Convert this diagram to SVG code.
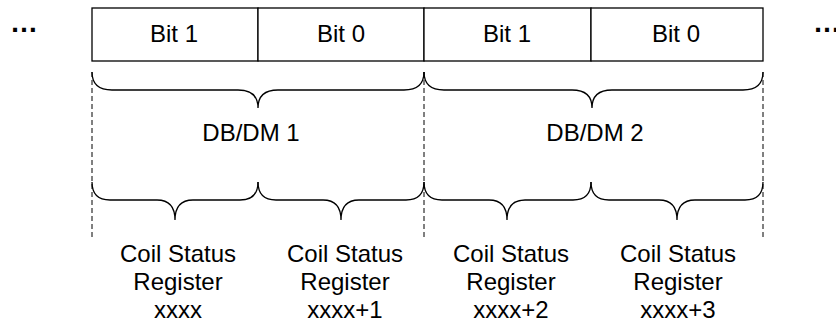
<svg xmlns="http://www.w3.org/2000/svg" width="836" height="322" viewBox="0 0 836 322">
<style>
text{font-family:"Liberation Sans",Arial,sans-serif;font-size:24px;fill:#000;text-anchor:middle}
.cell{fill:#fff;stroke:#000;stroke-width:1.3}
.brace{fill:none;stroke:#000;stroke-width:1.3}
.dash{fill:none;stroke:#000;stroke-width:1;stroke-dasharray:5,3}
.dots{font-size:28px;font-weight:bold;text-anchor:start}
</style>
<rect width="836" height="322" fill="#fff"/>
<text class="dots" x="10" y="32">…</text>
<text class="dots" x="813" y="32">…</text>
<g id="cell1"><rect class="cell" x="92" y="8" width="166" height="53"/><text x="174" y="42">Bit 1</text></g>
<g id="cell2"><rect class="cell" x="258" y="8" width="166" height="53"/><text x="341" y="42">Bit 0</text></g>
<g id="cell3"><rect class="cell" x="424" y="8" width="167" height="53"/><text x="507" y="42">Bit 1</text></g>
<g id="cell4"><rect class="cell" x="591" y="8" width="172" height="53"/><text x="676" y="42">Bit 0</text></g>
<g id="connectors">
<path class="dash" d="M92,72 V237 M424,72 V237 M763,72 V237"/>
<path class="brace" d="M92,72 Q92,90 112,90 L238,90 Q258,90 258,108 Q258,90 278,90 L404,90 Q424,90 424,72"/>
<path class="brace" d="M424,72 Q424,90 444,90 L572,90 Q592,90 592,108 Q592,90 612,90 L743,90 Q763,90 763,72"/>
<path class="brace" d="M92,182 Q92,200 110,200 L157,200 Q175,200 175,220 Q175,200 193,200 L240,200 Q258,200 258,182"/>
<path class="brace" d="M258,182 Q258,200 276,200 L323,200 Q341,200 341,220 Q341,200 359,200 L406,200 Q424,200 424,182"/>
<path class="brace" d="M424,182 Q424,200 442,200 L489,200 Q507,200 507,220 Q507,200 525,200 L573,200 Q591,200 591,182"/>
<path class="brace" d="M591,182 Q591,200 609,200 L659,200 Q677,200 677,220 Q677,200 695,200 L745,200 Q763,200 763,182"/>
</g>
<g id="db1"><text x="251" y="141">DB/DM 1</text></g>
<g id="db2"><text x="595" y="141">DB/DM 2</text></g>
<g id="reg1"><text x="178" y="262">Coil Status</text><text x="178" y="290">Register</text><text x="178" y="318">xxxx</text></g>
<g id="reg2"><text x="345" y="262">Coil Status</text><text x="345" y="290">Register</text><text x="345" y="318">xxxx+1</text></g>
<g id="reg3"><text x="511" y="262">Coil Status</text><text x="511" y="290">Register</text><text x="511" y="318">xxxx+2</text></g>
<g id="reg4"><text x="678" y="262">Coil Status</text><text x="678" y="290">Register</text><text x="678" y="318">xxxx+3</text></g>
</svg>
